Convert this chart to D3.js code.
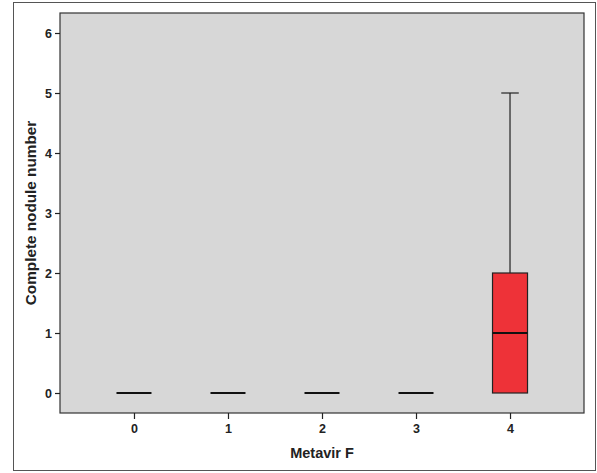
<!DOCTYPE html>
<html><head><meta charset="utf-8">
<script src="https://cdn.jsdelivr.net/npm/d3@7"></script>
<style>body{margin:0;background:#fff}svg{display:block}</style>
</head><body>
<script>
const categories = ["0","1","2","3","4"];
const q1 = [0,0,0,0,0];
const medians = [0,0,0,0,1];
const q3 = [0,0,0,0,2];
const whiskerMin = [0,0,0,0,0];
const whiskerMax = [0,0,0,0,5];
const yTicks = [0,1,2,3,4,5,6];

const W=597,H=473;
const svg=d3.select("body").append("svg").attr("width",W).attr("height",H);
svg.append("rect").attr("x",13.5).attr("y",2.5).attr("width",582).attr("height",468)
  .attr("fill","#fff").attr("stroke","#555").attr("stroke-width",1);

const L=60,R=584,T=13,B=413;
const y=d3.scaleLinear().domain([-1/3,19/3]).range([B,T]);
const x=d3.scalePoint().domain(categories).range([L,R]).padding(0.787);

svg.append("rect").attr("x",L).attr("y",T).attr("width",R-L).attr("height",B-T)
  .attr("fill","#d7d7d7").attr("stroke","#333").attr("stroke-width",1.2);

const font="Arial, 'Liberation Sans', sans-serif";
const ya=svg.append("g").attr("transform",`translate(${L},0)`)
  .call(d3.axisLeft(y).tickValues(yTicks).tickSize(5).tickPadding(3).tickFormat(d3.format("d")));
ya.select(".domain").remove();
ya.selectAll("line").attr("stroke","#222").attr("stroke-width",1.2);
ya.selectAll("text").attr("font-family",font).attr("font-weight","bold").attr("font-size",12.5).attr("fill","#222");

const xa=svg.append("g").attr("transform",`translate(0,${B})`)
  .call(d3.axisBottom(x).tickSize(6).tickPadding(5));
xa.select(".domain").remove();
xa.selectAll("line").attr("stroke","#222").attr("stroke-width",1.2);
xa.selectAll("text").attr("font-family",font).attr("font-weight","bold").attr("font-size",12.5).attr("fill","#222");

const bw=35;
const data=categories.map((c,i)=>({c,q1:q1[i],med:medians[i],q3:q3[i],lo:whiskerMin[i],hi:whiskerMax[i]}));
const g=svg.append("g");
data.forEach(d=>{
  const cx=x(d.c);
  if(d.hi>d.q3){
    g.append("line").attr("x1",cx).attr("x2",cx).attr("y1",y(d.q3)).attr("y2",y(d.hi)).attr("stroke","#222").attr("stroke-width",1.2);
    g.append("line").attr("x1",cx-bw/4).attr("x2",cx+bw/4).attr("y1",y(d.hi)).attr("y2",y(d.hi)).attr("stroke","#222").attr("stroke-width",1.2);
  }
  if(d.lo<d.q1){
    g.append("line").attr("x1",cx).attr("x2",cx).attr("y1",y(d.q1)).attr("y2",y(d.lo)).attr("stroke","#222").attr("stroke-width",1.2);
    g.append("line").attr("x1",cx-bw/4).attr("x2",cx+bw/4).attr("y1",y(d.lo)).attr("y2",y(d.lo)).attr("stroke","#222").attr("stroke-width",1.2);
  }
  if(d.q3>d.q1){
    g.append("rect").attr("x",cx-bw/2).attr("y",y(d.q3)).attr("width",bw).attr("height",y(d.q1)-y(d.q3))
      .attr("fill","#ee3238").attr("stroke","#222").attr("stroke-width",1.2);
  }
  g.append("line").attr("x1",cx-bw/2).attr("x2",cx+bw/2).attr("y1",y(d.med)).attr("y2",y(d.med)).attr("stroke","#111").attr("stroke-width",2);
});

svg.append("text").attr("x",(L+R)/2).attr("y",458).attr("text-anchor","middle")
  .attr("font-family",font).attr("font-weight","bold").attr("font-size",14.5).attr("fill","#222").text("Metavir F");
svg.append("text").attr("transform",`translate(36,213) rotate(-90)`).attr("text-anchor","middle")
  .attr("font-family",font).attr("font-weight","bold").attr("font-size",15.3).attr("fill","#222").text("Complete nodule number");
</script>
</body></html>
